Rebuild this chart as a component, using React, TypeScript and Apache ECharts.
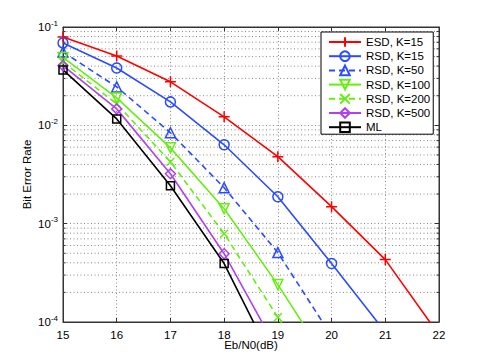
import React, { useEffect, useRef } from "react";
import * as echarts from "echarts";

const snr = [15, 16, 17, 18, 19, 20, 21, 22];
const esdK15 = [0.079, 0.0508, 0.0277, 0.0122, 0.0048, 0.00149, 0.000431, 0.000074];
const rsdK15 = [0.0689, 0.0383, 0.0173, 0.00634, 0.00188, 0.000393, 0.000079];
const rsdK50 = [0.0557, 0.0246, 0.0084, 0.00232, 0.000508, 0.000072];
const rsdK100 = [0.049, 0.019, 0.0059, 0.00142, 0.00024, 0.000034];
const rsdK200 = [0.044, 0.0165, 0.00426, 0.00079, 0.000112, 0.000016];
const rsdK500 = [0.0405, 0.0147, 0.00322, 0.000495, 0.000051];
const ml = [0.0366, 0.01163, 0.00243, 0.000393, 0.000032];
const xTicks = [15, 16, 17, 18, 19, 20, 21, 22];
const decades = [0.0001, 0.001, 0.01];
const minorMultipliers = [2, 3, 4, 5, 6, 7, 8, 9];

const FONT = "Liberation Sans, Arial, Helvetica, sans-serif";
const PLUS = "path://M5,0L5,10M0,5L10,5";
const CROSS = "path://M0,0L10,10M10,0L0,10";

export default function App() {
  const ref = useRef<HTMLDivElement>(null);
  useEffect(() => {
    const chart = echarts.init(ref.current!, null, { renderer: "svg" });
    const mk = (name: string, vals: number[], color: string, symbol: string, size: number, dashed: boolean, rotate = 0) => ({
      name,
      type: "line",
      data: vals.map((v, i) => [snr[i], v]),
      symbol,
      symbolSize: size,
      symbolRotate: rotate,
      showAllSymbol: true,
      clip: true,
      z: 3,
      lineStyle: { color, width: 1.6, type: dashed ? [6, 4] : "solid" },
      itemStyle: { color: "rgba(0,0,0,0)", borderColor: color, borderWidth: 1.5 },
      color,
    });
    const minorVals: number[][] = [];
    decades.forEach((d) => minorMultipliers.forEach((m) => minorVals.push([15, d * m])));

    chart.setOption({
      animation: false,
      backgroundColor: "#fff",
      textStyle: { fontFamily: FONT },
      grid: { left: 63, right: 46, top: 27, bottom: 42, show: true, borderColor: "#333", borderWidth: 1, backgroundColor: "#fff" },
      legend: {
        orient: "vertical",
        left: 321,
        top: 32,
        padding: [4, 3, 1, 7],
        itemWidth: 32,
        itemHeight: 12,
        itemGap: 2.2,
        backgroundColor: "#fff",
        borderColor: "#000",
        borderWidth: 1,
        selectedMode: false,
        textStyle: { fontSize: 11.5, color: "#000", fontFamily: FONT },
        data: ["ESD, K=15", "RSD, K=15", "RSD, K=50", "RSD, K=100", "RSD, K=200", "RSD, K=500", "ML"],
      },
      xAxis: [
        {
          type: "value",
          min: 15,
          max: 22,
          interval: 1,
          name: "Eb/N0(dB)",
          nameLocation: "middle",
          nameGap: 17,
          nameMoveOverlap: false,
          nameTextStyle: { fontSize: 11.5, color: "#000" },
          axisLine: { lineStyle: { color: "#333" } },
          axisTick: { inside: true, length: 4, lineStyle: { color: "#333" } },
          axisLabel: { fontSize: 11.5, color: "#000", margin: 7, data: xTicks },
          splitLine: { show: true, lineStyle: { color: "#888", type: [1, 2.5], width: 1 } },
        },
        {
          type: "value",
          position: "top",
          min: 15,
          max: 22,
          interval: 1,
          axisLine: { show: true, lineStyle: { color: "#333" } },
          axisTick: { inside: true, length: 4, lineStyle: { color: "#333" } },
          axisLabel: { show: false },
          splitLine: { show: false },
        },
      ],
      yAxis: [
        {
          type: "log",
          logBase: 10,
          min: 0.0001,
          max: 0.1,
          name: "Bit Error Rate",
          nameLocation: "middle",
          nameGap: 30,
          nameMoveOverlap: false,
          nameTextStyle: { fontSize: 11.5, color: "#000" },
          axisLine: { show: true, lineStyle: { color: "#333" } },
          axisTick: { inside: true, length: 4, lineStyle: { color: "#333" } },
          axisLabel: {
            margin: 5,
            formatter: (v: number) => `{b|10}{s|${Math.round(Math.log10(v))}}`,
            rich: {
              b: { fontSize: 11.5, color: "#000", fontFamily: FONT },
              s: { fontSize: 8, color: "#000", fontFamily: FONT, padding: [0, 0, 8, 0] },
            },
          },
          splitLine: { show: true, lineStyle: { color: "#888", type: [1, 2.5], width: 1 } },
        },
        {
          type: "log",
          logBase: 10,
          position: "right",
          min: 0.0001,
          max: 0.1,
          axisLine: { show: true, lineStyle: { color: "#333" } },
          axisTick: { inside: true, length: 4, lineStyle: { color: "#333" } },
          axisLabel: { show: false },
          splitLine: { show: false },
        },
      ],
      series: [
        {
          name: "minor",
          type: "custom",
          silent: true,
          z: 1,
          clip: true,
          data: minorVals,
          renderItem: (_p: any, api: any) => {
            const a = api.coord([15, api.value(1)]);
            const b = api.coord([22, api.value(1)]);
            return {
              type: "group",
              children: [
                { type: "line", shape: { x1: a[0], y1: a[1], x2: b[0], y2: b[1] }, style: { stroke: "#888", lineWidth: 1, lineDash: [1, 2.5] } },
                { type: "line", shape: { x1: a[0], y1: a[1], x2: a[0] + 2.5, y2: a[1] }, style: { stroke: "#333", lineWidth: 1 } },
                { type: "line", shape: { x1: b[0] - 2.5, y1: b[1], x2: b[0], y2: b[1] }, style: { stroke: "#333", lineWidth: 1 } },
              ],
            };
          },
        },
        mk("ESD, K=15", esdK15, "#ff0000", PLUS, 11, false),
        mk("RSD, K=15", rsdK15, "#2a4bff", "circle", 10, false),
        mk("RSD, K=50", rsdK50, "#2a4bff", "triangle", 10, true),
        mk("RSD, K=100", rsdK100, "#66ee11", "triangle", 10, false, 180),
        mk("RSD, K=200", rsdK200, "#66ee11", CROSS, 8, true),
        mk("RSD, K=500", rsdK500, "#b040f0", "diamond", 10, false),
        mk("ML", ml, "#000000", "rect", 8, false),
      ],
    });
    return () => chart.dispose();
  }, []);
  return <div ref={ref} style={{ position: "fixed", left: 0, top: 0, width: 485, height: 364 }} />;
}
